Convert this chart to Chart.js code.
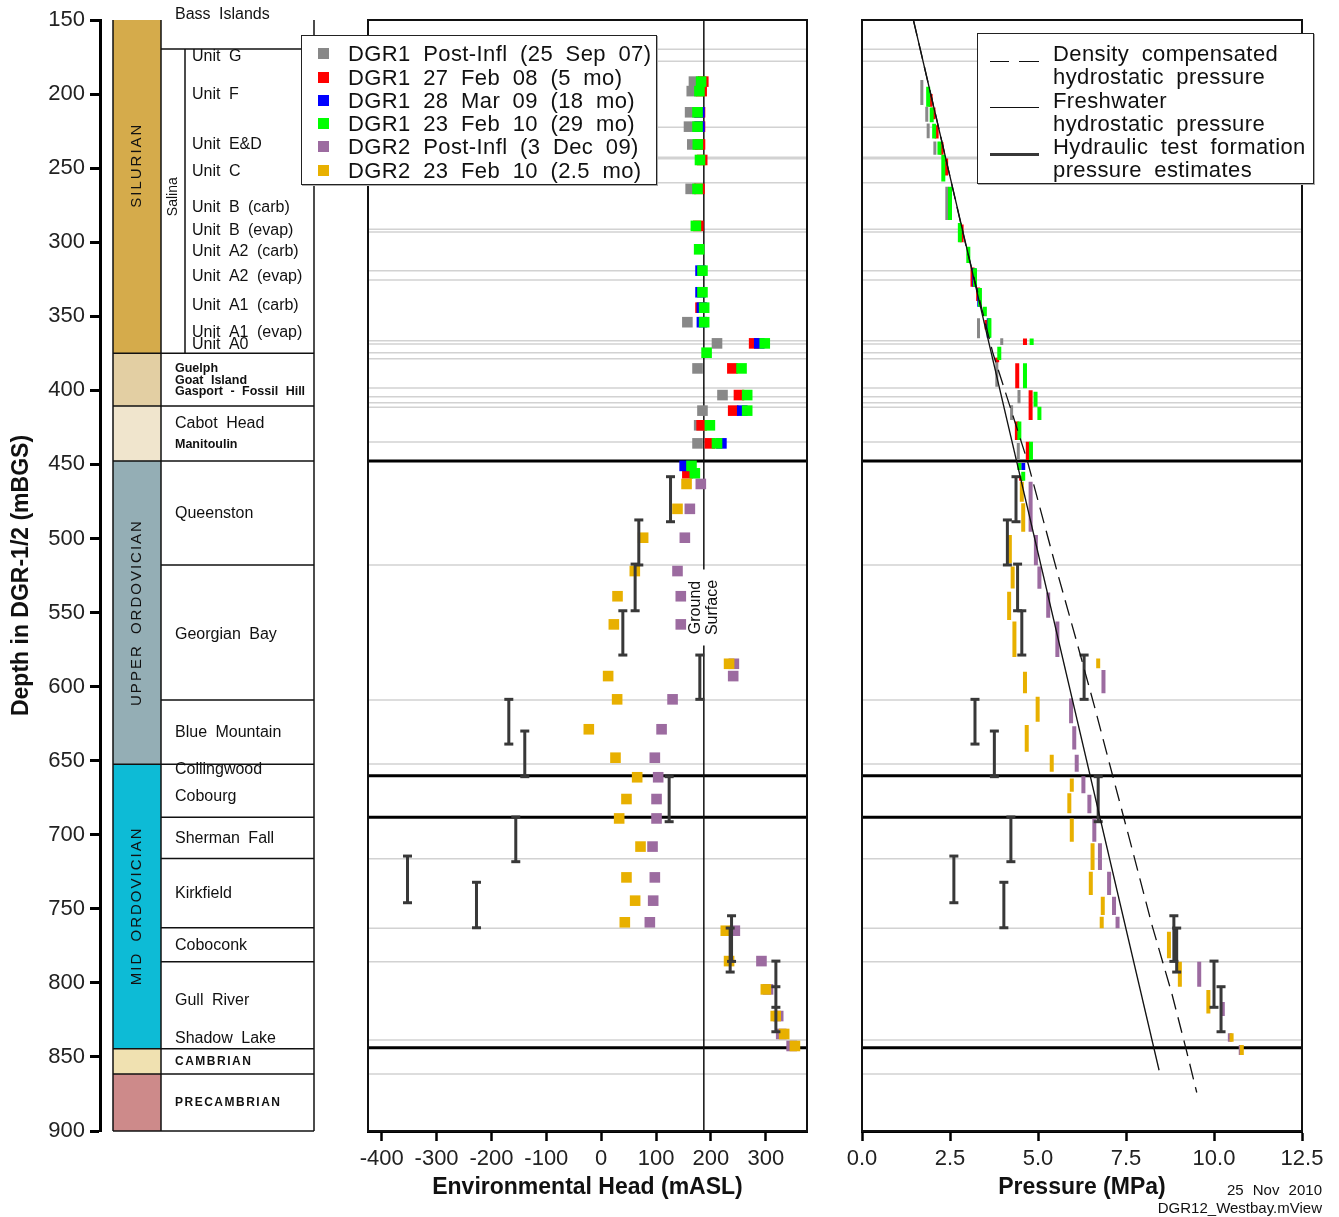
<!DOCTYPE html>
<html>
<head>
<meta charset="utf-8">
<title>DGR-1/2 Westbay head and pressure profiles</title>
<script src="https://cdn.jsdelivr.net/npm/chart.js@4.4.1/dist/chart.umd.min.js"></script>
<style>
  body { margin: 0; background: #fff; }
  #wrap { position: relative; width: 1339px; height: 1217px; overflow: hidden; background: #fff;
          font-family: 'Liberation Sans', Arial, sans-serif; color: #111; }
  canvas { position: absolute; top: 0; }
  .lg { position: absolute; background: #fff; border: 1.5px solid #222; box-shadow: 1px 1px 0 #aaa; z-index: 5; }
  .lg .t { position: absolute; font-size: 22px; line-height: 23px; white-space: nowrap; word-spacing: 6px; letter-spacing: 0.4px; }
  .lg .sw { position: absolute; width: 11px; height: 11px; }
  .lg .ln { position: absolute; height: 0; }
  .stamp { position: absolute; right: 17px; font-size: 15px; line-height: 18px; word-spacing: 5px; white-space: nowrap; }
</style>
</head>
<body>
<div id="wrap">
  <canvas id="strat" width="330" height="1217" style="left:0"></canvas>
  <canvas id="head" width="480" height="1217" style="left:340px"></canvas>
  <canvas id="press" width="509" height="1217" style="left:830px"></canvas>
  <div class="lg" id="headLegend" style="left:301px;top:35px;width:354px;height:148px"></div>
  <div class="lg" id="pressLegend" style="left:977px;top:33px;width:335px;height:149px"></div>
  <div class="stamp" style="top:1181px">25 Nov 2010</div>
  <div class="stamp" style="top:1199px">DGR12_Westbay.mView</div>
</div>
<script>
'use strict';

/* ── axis ticks ─────────────────────────────────────────── */
const depthTicks = [150, 200, 250, 300, 350, 400, 450, 500, 550, 600, 650, 700, 750, 800, 850, 900];
const headTicks  = [-400, -300, -200, -100, 0, 100, 200, 300];
const pressTicks = [0, 2.5, 5, 7.5, 10, 12.5];
const groundSurface = 187;   // mASL

/* ── stratigraphy (mBGS) ────────────────────────────────── */
const eraNames  = ['SILURIAN', '', '', 'UPPER ORDOVICIAN', 'MID ORDOVICIAN', '', ''];
const eraTop    = [150, 375, 410.6, 447.7, 652.5, 844.5, 861.5];
const eraBase   = [375, 410.6, 447.7, 652.5, 844.5, 861.5, 900];
const eraLabelDepth = [248, null, null, 550, 748];
const salinaTop = 169.6, salinaBase = 375;
const formBounds = [169.6, 375, 410.6, 447.7, 517.9, 609, 652.5, 688.2, 716, 762.8, 785.7, 844.5, 861.5, 900];
const formNames  = ['Bass Islands', 'Guelph', 'Goat Island', 'Gasport - Fossil Hill', 'Cabot Head', 'Manitoulin',
                    'Queenston', 'Georgian Bay', 'Blue Mountain', 'Collingwood', 'Cobourg', 'Sherman Fall',
                    'Kirkfield', 'Coboconk', 'Gull River', 'Shadow Lake', 'CAMBRIAN', 'PRECAMBRIAN'];
const formDepths = [146.6, 385.6, 393.7, 401.1, 422.7, 436.9, 483.5, 565.2, 631.3, 656.3, 674.5, 702.9,
                    740, 775.1, 812.3, 837.9, 853.4, 881.1];
const unitNames  = ['Unit G', 'Unit F', 'Unit E&D', 'Unit C', 'Unit B (carb)', 'Unit B (evap)', 'Unit A2 (carb)',
                    'Unit A2 (evap)', 'Unit A1 (carb)', 'Unit A1 (evap)', 'Unit A0'];
const unitDepths = [175, 200.6, 234.4, 252.6, 276.9, 292.4, 306.6, 323.5, 343.1, 361.3, 369.4];

/* ── monitoring zone / contact depths ───────────────────── */
const portDepths = [169.8, 177.9, 222.4, 242.7, 243.6, 259.8, 291.3, 293.1, 319.2, 325.5, 366.5, 368.7, 374.6,
                    378.6, 398.4, 404.3, 408.3, 411.4, 434.9, 517.9, 609, 652.3, 716.2, 763.2, 785.7, 838.6, 861.5];
const contactDepths = [447.7, 660.2, 688.2, 843.8];

/* ── environmental head [mASL, depth] ───────────────────── */
const gray1Head = [[169,191.6],[165,198],[162,212.3],[160,222],[166,234],[163,264],[157,354],[211,368.3],
                   [175.5,385.2],[221,403.2],[184.5,413.7],[178.5,423.6],[175.5,435.8]];
const red1Head  = [[186,191.6],[183,198],[180,212.3],[180,222],[180,234],[184,244.5],[179,264],[177,289],
                   [181,344.2],[278.7,368.3],[239,385.2],[251,403.2],[240.5,413.7],[183,423.6],[198,435.8],[157,456]];
const blue1Head = [[179,212.3],[179,222],[181,319.2],[181,333.8],[183.5,344.2],[183.5,354],[288,368.3],
                   [257,413.7],[219,435.8],[152,451]];
const green1Head = [[182,191.6],[179,198],[175.5,212.3],[175.5,222],[176,234],[180,244.5],[175.5,264],[172.5,289],
                    [178.5,304.8],[184.5,319.2],[184.5,333.8],[187.6,344.2],[187.6,354],[298,368.3],[192,374.6],
                    [255.7,385.2],[266,403.2],[266,413.7],[198,423.6],[211,435.8],[164.5,451],[170.6,456]];
const purple2Head = [[181.5,463.2],[161.5,480],[152.4,499.5],[139,522],[145,539],[145,558],[241.7,584.6],
                     [240.5,592.9],[130,608.6],[110,628.8],[97.7,648],[103.8,661.2],[100.8,675.9],[100.8,689],
                     [93.5,708],[97.7,728.8],[94.7,744.5],[88.6,759.1],[243.5,764.8],[292,785.3],[304,804.4],
                     [322.5,822.4],[328,834.5],[347,842.6]];
const orange2Head = [[155.5,463.2],[139,480],[76.4,499.5],[61.2,522],[29.7,539],[23,558],[233,584.6],[12.6,592.9],
                     [29,608.6],[-22.6,628.8],[26,648],[65.5,661.2],[46,675.9],[32.7,689],[71.6,708],[46,728.8],
                     [61.8,744.5],[43,759.1],[227,764.8],[233,785.3],[300,804.4],[318,822.4],[333.4,834.5],[353,842.6]];
/* hydraulic tests [head, top, bottom] */
const testHead = [[126.3,458.3,488.7],[68.5,487.5,517.9],[61.8,517.3,548.8],[39.4,548.8,578.7],[179.7,578.7,608.6],
                  [-168.4,608.6,638.8],[-139.3,630,660.8],[123.8,660.8,691.2],[-155.7,688,718.2],[-353,714.4,745.9],
                  [-227.3,732.1,762.8],[237.5,754.7,785.5],[235,763,792.7],[318.3,785.3,816.5],[318.3,802.6,833]];

/* ── pressure [MPa, top, bottom] ────────────────────────── */
const gray1Press = [[1.70,190.5,207.4],[1.84,208.5,218.7],[1.88,219.8,229.9],[2.07,232,241],[2.41,262.5,285],
                    [3.31,351.4,364.9],[3.97,364.9,369.4],[3.83,378,397.5],[4.46,399.8,408.8],[4.25,410,420],[4.44,435.6,447]];
const red1Press  = [[1.95,200,208.5],[2.03,209,217],[2.12,221,230],[2.26,232.5,241],[2.39,243.5,255],[2.83,288,300],
                    [3.14,317,330],[3.3,330.5,339.7],[3.54,352.5,359],[4.63,365,369.4],[3.84,378,381],[4.41,381.8,398.6],
                    [4.79,400,420],[4.4,421,433.5],[4.71,434.7,447],[4.52,458,461]];
const blue1Press = [[3.19,317.6,330],[3.33,331,343.5],[3.6,351.4,364.5],[4.58,449,453.8]];
const green1Press = [[1.88,195,208.5],[1.98,209,219],[2.05,220,230],[2.2,232,241],[2.31,241,259],[2.5,262.5,285],
                     [2.78,287,300],[3.02,303,314],[3.21,317.6,330],[3.35,331,343.5],[3.49,343.5,350],[3.62,351.4,364.5],
                     [4.82,365,369.4],[3.9,370.5,379.5],[4.63,381.8,398.6],[4.93,401,411],[5.04,411,420],[4.47,421,433.5],
                     [4.8,434.7,447],[4.47,449,453.8],[4.58,455,461]];
const purple2Press = [[4.79,461.7,477],[4.79,477,495.4],[4.94,497.7,518],[5.04,519,534],[5.29,536.5,553.5],[5.55,556,580],
                      [6.86,588.8,604.5],[5.94,608,624.8],[6.03,626.7,642.4],[6.1,646,657.5],[6.29,660.5,672],[6.46,673,685.5],
                      [6.6,689,704.7],[6.76,705.8,723.8],[7.02,725,740.7],[7.16,741.8,754.2],[7.26,755.3,763.2],
                      [9.58,785.7,802.6],[10.25,813,822.4],[10.45,834,839.7],[10.76,842,848.7]];
const orange2Press = [[4.54,461.7,475.2],[4.58,476.3,495.4],[4.2,497.7,516.8],[4.28,519,533.7],[4.18,536,555],[4.33,556,580],
                      [6.71,581,587.6],[4.63,590,604.5],[4.99,606.8,623.7],[4.68,626,644],[5.39,646,657.5],[5.96,662,671],
                      [5.89,672,685.5],[5.96,689,704.7],[6.55,705.8,723.8],[6.5,725,740.7],[6.84,741.8,754.2],[6.81,755.3,763.2],
                      [8.72,765.5,783.4],[9.03,785.7,802.6],[9.84,804.8,820.6],[10.5,834,839.7],[10.79,842,848.7]];
const testPress = [[4.375,458.3,488.7],[4.13,487.5,517.9],[4.42,517.3,548.8],[4.54,548.8,578.7],[6.31,578.7,608.6],
                   [3.21,608.6,638.8],[3.76,630,660.8],[6.71,660.8,691.2],[4.23,688,718.2],[2.61,714.4,745.9],
                   [4.03,732.1,762.8],[8.86,754.7,785.5],[8.94,763,792.7],[10.0,785.3,816.5],[10.2,802.6,833]];
/* hydrostatic profiles [MPa, depth] */
const freshLine = [[1.46,150],[8.44,859]];
const densLine  = [[1.46,150],[2.2,225],[2.93,300],[3.72,375],[4.69,447],[5.55,523],[6.08,568],[6.6,613],
                   [7.12,660],[7.6,703],[8.25,762],[8.8,807],[9.2,844],[9.51,874]];

const seriesNames = ['DGR1 Post-Infl (25 Sep 07)', 'DGR1 27 Feb 08 (5 mo)', 'DGR1 28 Mar 09 (18 mo)',
                     'DGR1 23 Feb 10 (29 mo)', 'DGR2 Post-Infl (3 Dec 09)', 'DGR2 23 Feb 10 (2.5 mo)'];
const lineNames = [['Density compensated', 'hydrostatic pressure'], ['Freshwater', 'hydrostatic pressure'],
                   ['Hydraulic test formation', 'pressure estimates']];

/* ── styles ─────────────────────────────────────────────── */
const FONT = "'Liberation Sans', Arial, sans-serif";
const C = { gray: '#888888', red: '#ff0000', blue: '#0000ff', green: '#00ff00', purple: '#9c6ba0', orange: '#e8b000', test: '#383838' };
const seriesColors = [C.gray, C.red, C.blue, C.green, C.purple, C.orange];
const eraColors = ['#d5ab4b', '#e3cfa3', '#f0e5cd', '#94aeb5', '#0dbbd6', '#f0e1b1', '#cd8a8a'];
const COL = { eraL: 13, eraR: 61, salR: 85, right: 214 };   // column edges in strat x units
const smallNames = new Set(['Guelph', 'Goat Island', 'Gasport - Fossil Hill', 'Manitoulin']);
const capsNames = new Set(['CAMBRIAN', 'PRECAMBRIAN']);

Chart.defaults.font.family = FONT;
Chart.defaults.color = '#222';

const pts  = rows => rows.map(([x, y]) => ({ x, y }));
const segs = rows => rows.flatMap(([v, top, base]) => [{ x: v, y: top }, { x: v, y: base }, { x: null, y: null }]);

/* ── plugins ────────────────────────────────────────────── */
const stratPlugin = {
  id: 'strat',
  afterDraw(chart) {
    const { ctx, scales: { x, y } } = chart;
    const X = v => x.getPixelForValue(v), Y = d => y.getPixelForValue(d);
    const line = (x1, y1, x2, y2) => { ctx.beginPath(); ctx.moveTo(x1, y1); ctx.lineTo(x2, y2); ctx.stroke(); };
    ctx.save();
    eraTop.forEach((t, i) => {
      ctx.fillStyle = eraColors[i];
      ctx.fillRect(X(COL.eraL), Y(t), X(COL.eraR) - X(COL.eraL), Y(eraBase[i]) - Y(t));
    });
    ctx.strokeStyle = '#111';
    ctx.lineWidth = 1.5;
    [COL.eraL, COL.eraR, COL.right].forEach(v => line(X(v), Y(150), X(v), Y(900)));
    line(X(COL.salR), Y(salinaTop), X(COL.salR), Y(salinaBase));
    formBounds.forEach(d => line(X(COL.eraR), Y(d), X(COL.right), Y(d)));
    eraBase.forEach(d => line(X(COL.eraL), Y(d), X(COL.eraR), Y(d)));

    ctx.fillStyle = '#111';
    ctx.textBaseline = 'middle';
    ctx.textAlign = 'left';
    ctx.wordSpacing = '4px';
    formNames.forEach((n, i) => {
      ctx.letterSpacing = '0px';
      if (smallNames.has(n)) ctx.font = 'bold 12.5px ' + FONT;
      else if (capsNames.has(n)) { ctx.font = 'bold 12px ' + FONT; ctx.letterSpacing = '1.5px'; }
      else ctx.font = '16px ' + FONT;
      ctx.fillText(n, X(75), Y(formDepths[i]));
    });
    ctx.letterSpacing = '0px';
    ctx.font = '16px ' + FONT;
    unitNames.forEach((n, i) => ctx.fillText(n, X(92), Y(unitDepths[i])));

    ctx.textAlign = 'center';
    const vtext = (s, cx, cy, font, sp) => {
      ctx.save();
      ctx.translate(cx, cy);
      ctx.rotate(-Math.PI / 2);
      ctx.font = font;
      ctx.letterSpacing = sp;
      ctx.fillText(s, 0, 0);
      ctx.restore();
    };
    eraNames.forEach((n, i) => { if (n) vtext(n, X(37), Y(eraLabelDepth[i]), '15px ' + FONT, '2px'); });
    vtext('Salina', X(73), Y((salinaTop + salinaBase) / 2 - 3), '14px ' + FONT, '0px');
    ctx.restore();
  }
};

const depthLines = {
  id: 'depthLines',
  beforeDatasetsDraw(chart) {
    const { ctx, chartArea: a, scales: { y } } = chart;
    ctx.save();
    ctx.strokeStyle = '#d2d2d2';
    ctx.lineWidth = 1.5;
    portDepths.forEach(d => {
      const py = y.getPixelForValue(d);
      ctx.beginPath(); ctx.moveTo(a.left, py); ctx.lineTo(a.right, py); ctx.stroke();
    });
    ctx.strokeStyle = '#000';
    ctx.lineWidth = 3;
    contactDepths.forEach(d => {
      const py = y.getPixelForValue(d);
      ctx.beginPath(); ctx.moveTo(a.left, py); ctx.lineTo(a.right, py); ctx.stroke();
    });
    ctx.restore();
  },
  afterDatasetsDraw(chart) {
    const { ctx, chartArea: a } = chart;
    ctx.save();
    ctx.strokeStyle = '#111';
    ctx.lineWidth = 2;
    ctx.strokeRect(a.left, a.top, a.right - a.left, a.bottom - a.top);
    ctx.restore();
  }
};

const groundLabel = {
  id: 'groundLabel',
  afterDatasetsDraw(chart) {
    const { ctx, scales: { x, y } } = chart;
    const px = x.getPixelForValue(groundSurface), py = y.getPixelForValue(546.6);
    ctx.save();
    ctx.fillStyle = '#fff';
    ctx.fillRect(px - 16, py - 38, 33, 76);
    ctx.translate(px, py);
    ctx.rotate(-Math.PI / 2);
    ctx.fillStyle = '#111';
    ctx.font = '16px ' + FONT;
    ctx.textAlign = 'center';
    ctx.textBaseline = 'middle';
    ctx.fillText('Ground', 0, -8);
    ctx.fillText('Surface', 0, 9);
    ctx.restore();
  }
};

/* ── shared scale pieces ────────────────────────────────── */
const depthAxisHidden = { type: 'linear', display: false, reverse: true, min: 150, max: 900 };
const bottomAxis = (min, max, ticks, title, fmt) => ({
  type: 'linear', position: 'bottom', min, max,
  afterBuildTicks: ax => { ax.ticks = ticks.map(value => ({ value })); },
  afterFit: ax => { ax.height = 86; ax.paddingLeft = 0; ax.paddingRight = 0; },
  border: { display: true, color: '#000', width: 3 },
  grid: { drawOnChartArea: false, drawTicks: true, tickLength: 10, tickWidth: 2.5, color: '#000' },
  ticks: { font: { size: 22 }, color: '#222', padding: 5, maxRotation: 0, autoSkip: false, callback: fmt },
  title: { display: true, text: title, font: { size: 23, weight: 'bold' }, color: '#111', padding: { top: 0, bottom: 16 } }
});
const baseOpts = (pad, scales) => ({
  responsive: false, animation: false, devicePixelRatio: 1, events: [],
  layout: { padding: pad },
  plugins: { legend: { display: false }, tooltip: { enabled: false } },
  scales
});

const squares = (rows, color, order) => ({
  data: pts(rows), showLine: false, pointStyle: 'rect', pointRadius: 7.5, pointBorderWidth: 0,
  pointBackgroundColor: color, backgroundColor: color, borderColor: color, order
});
const dashes = (rows, color, width, order) => ({
  data: segs(rows), borderColor: color, borderWidth: width, pointRadius: 0, spanGaps: false, borderCapStyle: 'butt', order
});
const beams = (rows, order) => ({
  data: segs(rows), borderColor: C.test, borderWidth: 3, spanGaps: false, borderCapStyle: 'butt',
  pointStyle: 'line', pointRadius: 4.5, pointBorderWidth: 3, pointBorderColor: C.test, order
});

/* ── chart 1: depth axis + stratigraphic column ─────────── */
new Chart(document.getElementById('strat'), {
  type: 'scatter',
  data: { datasets: [] },
  options: baseOpts({ left: 0, right: 16, top: 20, bottom: 86 }, {
    x: { type: 'linear', display: false, min: 0, max: COL.right },
    y: {
      type: 'linear', position: 'left', reverse: true, min: 150, max: 900,
      afterBuildTicks: ax => { ax.ticks = depthTicks.map(value => ({ value })); },
      afterFit: ax => { ax.width = 100; ax.paddingTop = 0; ax.paddingBottom = 0; },
      border: { display: true, color: '#000', width: 3 },
      grid: { drawOnChartArea: false, drawTicks: true, tickLength: 10, tickWidth: 3, color: '#000' },
      ticks: { font: { size: 22 }, color: '#222', padding: 5, autoSkip: false },
      title: { display: true, text: 'Depth in DGR-1/2 (mBGS)', font: { size: 23, weight: 'bold' }, color: '#111', padding: { top: 8, bottom: 0 } }
    }
  }),
  plugins: [stratPlugin]
});

/* ── chart 2: environmental head ────────────────────────── */
new Chart(document.getElementById('head'), {
  type: 'line',
  data: {
    datasets: [
      { data: pts([[groundSurface, 150], [groundSurface, 900]]), borderColor: '#111', borderWidth: 1.5, pointRadius: 0, order: 10 },
      squares(gray1Head, C.gray, 9),
      squares(red1Head, C.red, 8),
      squares(blue1Head, C.blue, 7),
      squares(green1Head, C.green, 6),
      squares(purple2Head, C.purple, 5),
      squares(orange2Head, C.orange, 4),
      beams(testHead, 1)
    ]
  },
  options: baseOpts({ left: 28, right: 13, top: 20, bottom: 0 }, {
    x: bottomAxis(-425, 375, headTicks, 'Environmental Head (mASL)', v => String(v)),
    y: depthAxisHidden
  }),
  plugins: [depthLines, groundLabel]
});

/* ── chart 3: pressure ──────────────────────────────────── */
new Chart(document.getElementById('press'), {
  type: 'line',
  data: {
    datasets: [
      dashes(gray1Press, C.gray, 3, 9),
      dashes(red1Press, C.red, 4, 8),
      dashes(blue1Press, C.blue, 4, 7),
      dashes(green1Press, C.green, 4, 6),
      dashes(purple2Press, C.purple, 4, 5),
      dashes(orange2Press, C.orange, 4, 4),
      beams(testPress, 2),
      { data: pts(freshLine), borderColor: '#111', borderWidth: 1.3, pointRadius: 0, order: 1 },
      { data: pts(densLine), borderColor: '#111', borderWidth: 1.3, borderDash: [16, 8], pointRadius: 0, order: 0 }
    ]
  },
  options: baseOpts({ left: 32, right: 37, top: 20, bottom: 0 }, {
    x: bottomAxis(0, 12.5, pressTicks, 'Pressure (MPa)', v => Number(v).toFixed(1)),
    y: depthAxisHidden
  }),
  plugins: [depthLines]
});

/* ── legends ────────────────────────────────────────────── */
(function buildLegends() {
  const hl = document.getElementById('headLegend');
  const rowTop = [6, 30, 53, 76, 99, 123];
  hl.innerHTML = seriesNames.map((n, i) =>
    `<div class="sw" style="left:16px;top:${rowTop[i] + 6}px;background:${seriesColors[i]}"></div>` +
    `<div class="t" style="left:46px;top:${rowTop[i]}px">${n}</div>`).join('');

  const pl = document.getElementById('pressLegend');
  const textTop = [8, 31, 55, 78, 101, 124];
  let html = '';
  lineNames.forEach((pair, i) => {
    pair.forEach((s, j) => { html += `<div class="t" style="left:75px;top:${textTop[i * 2 + j]}px">${s}</div>`; });
  });
  html += `<div class="ln" style="left:12px;top:27px;width:19px;border-top:1.5px solid #111"></div>`;
  html += `<div class="ln" style="left:41px;top:27px;width:20px;border-top:1.5px solid #111"></div>`;
  html += `<div class="ln" style="left:12px;top:73px;width:49px;border-top:1.5px solid #111"></div>`;
  html += `<div class="ln" style="left:12px;top:119px;width:49px;border-top:3px solid ${C.test}"></div>`;
  pl.innerHTML = html;
})();
</script>
</body>
</html>
